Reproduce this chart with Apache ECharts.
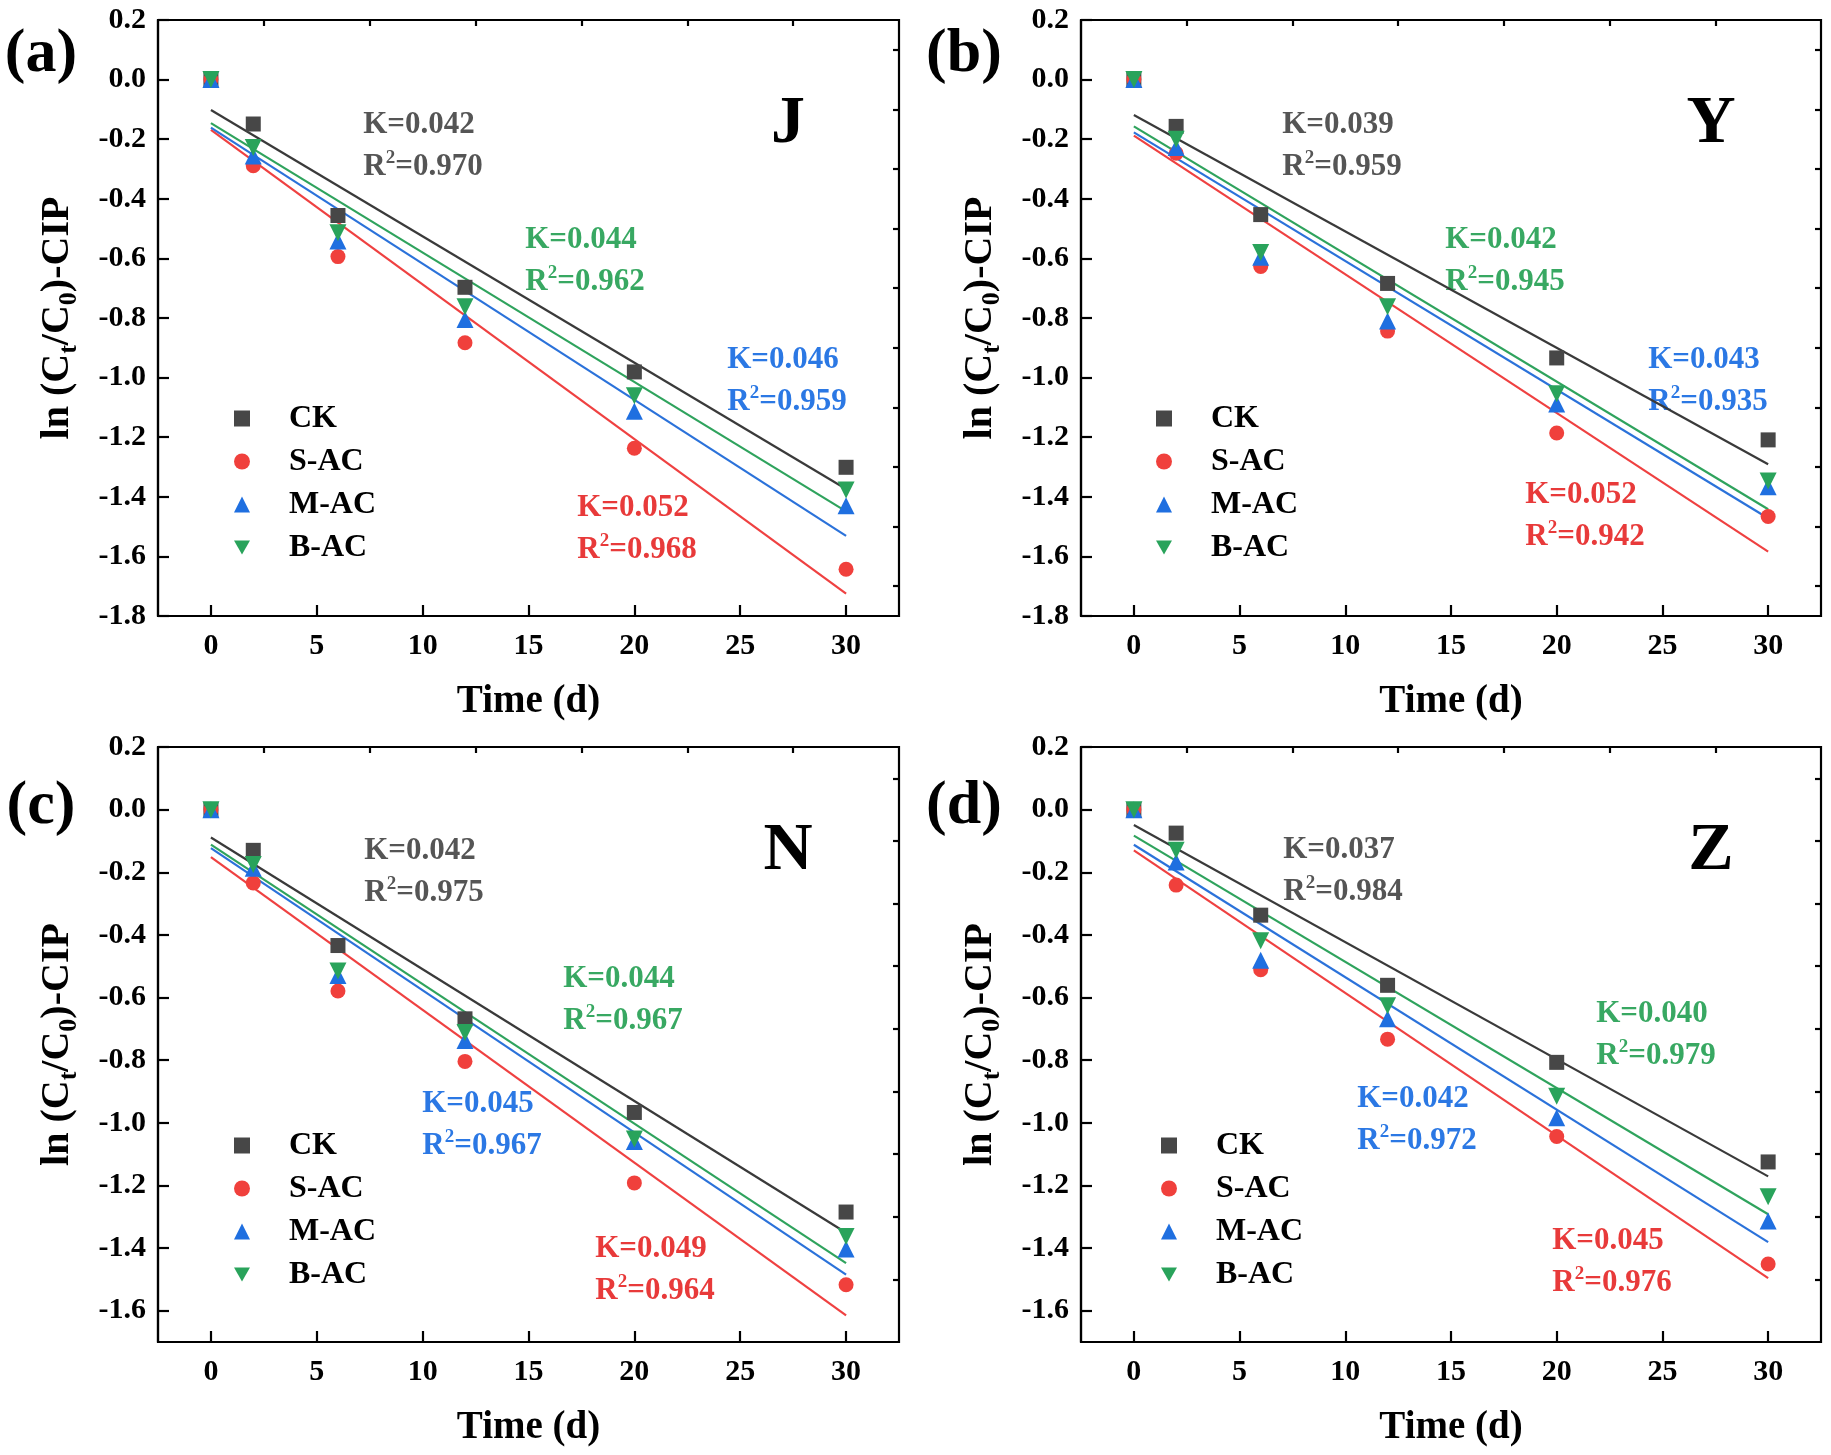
<!DOCTYPE html>
<html>
<head>
<meta charset="utf-8">
<script src="https://cdn.jsdelivr.net/npm/echarts@6/dist/echarts.min.js"></script>
<style>
  html, body { margin: 0; padding: 0; background: #fff; }
  #chart { width: 1831px; height: 1455px; }
</style>
</head>
<body>
<div id="chart"></div>
<script>
// sampling days
var days = [0, 2, 6, 12, 20, 30];
var groups = ['CK', 'S-AC', 'M-AC', 'B-AC'];

// (a) J
var ckJ  = [0, -0.149, -0.456, -0.697, -0.981, -1.301];
var sacJ = [0, -0.289, -0.594, -0.883, -1.237, -1.643];
var macJ = [0, -0.256, -0.542, -0.805, -1.113, -1.430];
var bacJ = [0, -0.228, -0.514, -0.762, -1.061, -1.377];
// (b) Y
var ckY  = [0, -0.157, -0.453, -0.684, -0.934, -1.209];
var sacY = [0, -0.247, -0.627, -0.844, -1.186, -1.466];
var macY = [0, -0.228, -0.596, -0.810, -1.089, -1.366];
var bacY = [0, -0.200, -0.580, -0.762, -1.054, -1.347];
// (c) N
var ckN  = [0, -0.130, -0.434, -0.668, -0.967, -1.285];
var sacN = [0, -0.234, -0.579, -0.804, -1.192, -1.517];
var macN = [0, -0.187, -0.530, -0.737, -1.060, -1.403];
var bacN = [0, -0.175, -0.515, -0.712, -1.052, -1.363];
// (d) Z
var ckZ  = [0, -0.075, -0.337, -0.561, -0.807, -1.125];
var sacZ = [0, -0.241, -0.511, -0.733, -1.044, -1.451];
var macZ = [0, -0.167, -0.481, -0.668, -0.984, -1.314];
var bacZ = [0, -0.130, -0.419, -0.626, -0.915, -1.236];

// fitted lines: value at day 0 and at day 30 (CK, S-AC, M-AC, B-AC)
var fitStartJ = [-0.102, -0.169, -0.161, -0.146];
var fitEndJ   = [-1.374, -1.725, -1.531, -1.449];
var fitStartY = [-0.119, -0.188, -0.177, -0.157];
var fitEndY   = [-1.291, -1.584, -1.472, -1.442];
var fitStartN = [-0.089, -0.152, -0.123, -0.112];
var fitEndN   = [-1.351, -1.615, -1.485, -1.448];
var fitStartZ = [-0.049, -0.130, -0.112, -0.083];
var fitEndZ   = [-1.171, -1.496, -1.381, -1.292];
var fitDays = [0, 30];

// rate constants and R2 (CK, S-AC, M-AC, B-AC)
var kJ = ['0.042', '0.052', '0.046', '0.044'];
var rJ = ['0.970', '0.968', '0.959', '0.962'];
var kY = ['0.039', '0.052', '0.043', '0.042'];
var rY = ['0.959', '0.942', '0.935', '0.945'];
var kN = ['0.042', '0.049', '0.045', '0.044'];
var rN = ['0.975', '0.964', '0.967', '0.967'];
var kZ = ['0.037', '0.045', '0.042', '0.040'];
var rZ = ['0.984', '0.976', '0.972', '0.979'];

// ticks
var xTicks = [0, 5, 10, 15, 20, 25, 30];
var xMinor = [2.5, 7.5, 12.5, 17.5, 22.5, 27.5];
var yTicksTop = [0.2, 0, -0.2, -0.4, -0.6, -0.8, -1.0, -1.2, -1.4, -1.6, -1.8];
var yTicksBottom = [0.2, 0, -0.2, -0.4, -0.6, -0.8, -1.0, -1.2, -1.4, -1.6];
var yMinor = [0.1, -0.1, -0.3, -0.5, -0.7, -0.9, -1.1, -1.3, -1.5, -1.7];

var FONT = 'Liberation Serif';
var markColors = ['#474747', '#f0403c', '#1f6fe0', '#29a35b'];
var lineColors = ['#3a3a3a', '#ef4141', '#2b72da', '#2fa35d'];
var textColors = ['#555555', '#e83a3a', '#2b78e4', '#38a862'];
var symbols = ['rect', 'circle', 'triangle', 'path://M0,0L10,0L5,8.66Z'];
var symbolSizes = [15, 15, 17, 17];

var panels = [
  { tag: '(a)', site: 'J', grid: { left: 158, top: 20, width: 741, height: 596 }, yMin: -1.8, yTicks: yTicksTop,
    data: [ckJ, sacJ, macJ, bacJ], fit0: fitStartJ, fit1: fitEndJ, k: kJ, r: rJ,
    notes: [[261, 105], [475, 488], [625, 340], [423, 220]], legendX: 84, tagY: 35 },
  { tag: '(b)', site: 'Y', grid: { left: 1081, top: 20, width: 740, height: 596 }, yMin: -1.8, yTicks: yTicksTop,
    data: [ckY, sacY, macY, bacY], fit0: fitStartY, fit1: fitEndY, k: kY, r: rY,
    notes: [[257, 105], [500, 475], [623, 340], [420, 220]], legendX: 83, tagY: 35 },
  { tag: '(c)', site: 'N', grid: { left: 158, top: 747, width: 741, height: 595 }, yMin: -1.7, yTicks: yTicksBottom,
    data: [ckN, sacN, macN, bacN], fit0: fitStartN, fit1: fitEndN, k: kN, r: rN,
    notes: [[262, 104], [493, 502], [320, 357], [461, 232]], legendX: 84, tagY: 60 },
  { tag: '(d)', site: 'Z', grid: { left: 1081, top: 747, width: 740, height: 595 }, yMin: -1.7, yTicks: yTicksBottom,
    data: [ckZ, sacZ, macZ, bacZ], fit0: fitStartZ, fit1: fitEndZ, k: kZ, r: rZ,
    notes: [[258, 103], [527, 494], [332, 352], [571, 267]], legendX: 88, tagY: 60 }
];

function rich(color, size) {
  return {
    n: { fontFamily: FONT, fontWeight: 'bold', fontSize: size, fill: color, lineHeight: size + 6 },
    p: { fontFamily: FONT, fontWeight: 'bold', fontSize: Math.round(size * 0.62), fill: color,
         lineHeight: Math.round(size * 0.62), verticalAlign: 'top' }
  };
}

var grids = [], xAxes = [], yAxes = [], series = [], legends = [], graphics = [];

panels.forEach(function (p, i) {
  grids.push(Object.assign({ show: true, borderColor: '#000', borderWidth: 2.2, backgroundColor: '#fff' }, p.grid));

  var tickStyle = { lineStyle: { color: '#000', width: 2.2 } };
  // major x axis
  xAxes.push({
    type: 'value', gridIndex: i, min: -2.5, max: 32.5,
    name: 'Time (d)', nameLocation: 'middle', nameGap: 66,
    nameTextStyle: { fontFamily: FONT, fontWeight: 'bold', fontSize: 39, color: '#000' },
    axisLine: { show: true, onZero: false, lineStyle: { color: '#000', width: 2.2 } },
    axisTick: Object.assign({ show: true, inside: true, length: 11, customValues: xTicks }, tickStyle),
    axisLabel: { show: true, customValues: xTicks, margin: 15, fontFamily: FONT, fontWeight: 'bold', fontSize: 30, color: '#000' },
    splitLine: { show: false }
  });
  // minor x ticks
  xAxes.push({
    type: 'value', gridIndex: i, min: -2.5, max: 32.5,
    axisLine: { show: false, onZero: false },
    axisTick: Object.assign({ show: true, inside: true, length: 6, customValues: xMinor }, tickStyle),
    axisLabel: { show: false },
    splitLine: { show: false }
  });
  // major y axis
  yAxes.push({
    type: 'value', gridIndex: i, min: p.yMin, max: 0.2,
    name: '{n|ln (C}{s|t}{n|/C}{s|0}{n|)-CIP}', nameLocation: 'middle', nameGap: 76, nameRotate: 90,
    nameTextStyle: {
      rich: {
        n: { fontFamily: FONT, fontWeight: 'bold', fontSize: 40, color: '#000', lineHeight: 48 },
        s: { fontFamily: FONT, fontWeight: 'bold', fontSize: 26, color: '#000', lineHeight: 26, verticalAlign: 'bottom' }
      }
    },
    axisLine: { show: true, onZero: false, lineStyle: { color: '#000', width: 2.2 } },
    axisTick: Object.assign({ show: true, inside: true, length: 11, customValues: p.yTicks }, tickStyle),
    axisLabel: {
      show: true, customValues: p.yTicks, margin: 12,
      fontFamily: FONT, fontWeight: 'bold', fontSize: 30, color: '#000',
      formatter: function (v) { return (Math.abs(v) < 1e-9 ? 0 : v).toFixed(1); }
    },
    splitLine: { show: false }
  });
  // minor y ticks
  yAxes.push({
    type: 'value', gridIndex: i, min: p.yMin, max: 0.2,
    axisLine: { show: false, onZero: false },
    axisTick: Object.assign({ show: true, inside: true, length: 6, customValues: yMinor.filter(function (v) { return v > p.yMin; }) }, tickStyle),
    axisLabel: { show: false },
    splitLine: { show: false }
  });

  // fit lines
  groups.forEach(function (g, j) {
    series.push({
      name: g + ' fit', type: 'line', xAxisIndex: 2 * i, yAxisIndex: 2 * i,
      data: fitDays.map(function (d, m) { return [d, m === 0 ? p.fit0[j] : p.fit1[j]]; }),
      showSymbol: false, symbol: 'none', silent: true, z: 2,
      lineStyle: { color: lineColors[j], width: 2.2 }
    });
  });
  // measured points
  groups.forEach(function (g, j) {
    series.push({
      name: g, type: 'scatter', xAxisIndex: 2 * i, yAxisIndex: 2 * i,
      data: days.map(function (d, m) { return [d, p.data[j][m]]; }),
      symbol: symbols[j], symbolSize: symbolSizes[j], z: 3 + j,
      itemStyle: { color: markColors[j], opacity: 1 }
    });
  });

  legends.push({
    data: groups, orient: 'vertical', padding: 0,
    left: p.grid.left + p.legendX - 8, top: p.grid.top + 382,
    itemWidth: 16, itemHeight: 16, itemGap: 10, symbolKeepAspect: true,
    textStyle: { fontFamily: FONT, fontWeight: 'bold', fontSize: 32, color: '#000', lineHeight: 33, padding: [0, 0, 0, 34] }
  });

  // panel tag and site letter
  graphics.push({
    type: 'text', x: p.grid.left - 117, y: p.grid.top + p.tagY,
    style: { text: p.tag, fontFamily: FONT, fontWeight: 'bold', fontSize: 62, fill: '#000', align: 'center', verticalAlign: 'middle' }
  });
  graphics.push({
    type: 'text', x: p.grid.left + 630, y: p.grid.top + 104,
    style: { text: p.site, fontFamily: FONT, fontWeight: 'bold', fontSize: 68, fill: '#000', align: 'center', verticalAlign: 'middle' }
  });
  // K and R2 annotations
  groups.forEach(function (g, j) {
    var pos = p.notes[j];
    graphics.push({
      type: 'text', x: p.grid.left + pos[0], y: p.grid.top + pos[1],
      style: { text: '{n|K=' + p.k[j] + '}', rich: rich(textColors[j], 31), align: 'center', verticalAlign: 'middle' }
    });
    graphics.push({
      type: 'text', x: p.grid.left + pos[0] + 4, y: p.grid.top + pos[1] + 42,
      style: { text: '{n|R}{p|2}{n|=' + p.r[j] + '}', rich: rich(textColors[j], 31), align: 'center', verticalAlign: 'middle' }
    });
  });
});

var chart = echarts.init(document.getElementById('chart'));
chart.setOption({
  animation: false,
  backgroundColor: '#fff',
  grid: grids,
  xAxis: xAxes,
  yAxis: yAxes,
  legend: legends,
  series: series,
  graphic: graphics
});
</script>
</body>
</html>
